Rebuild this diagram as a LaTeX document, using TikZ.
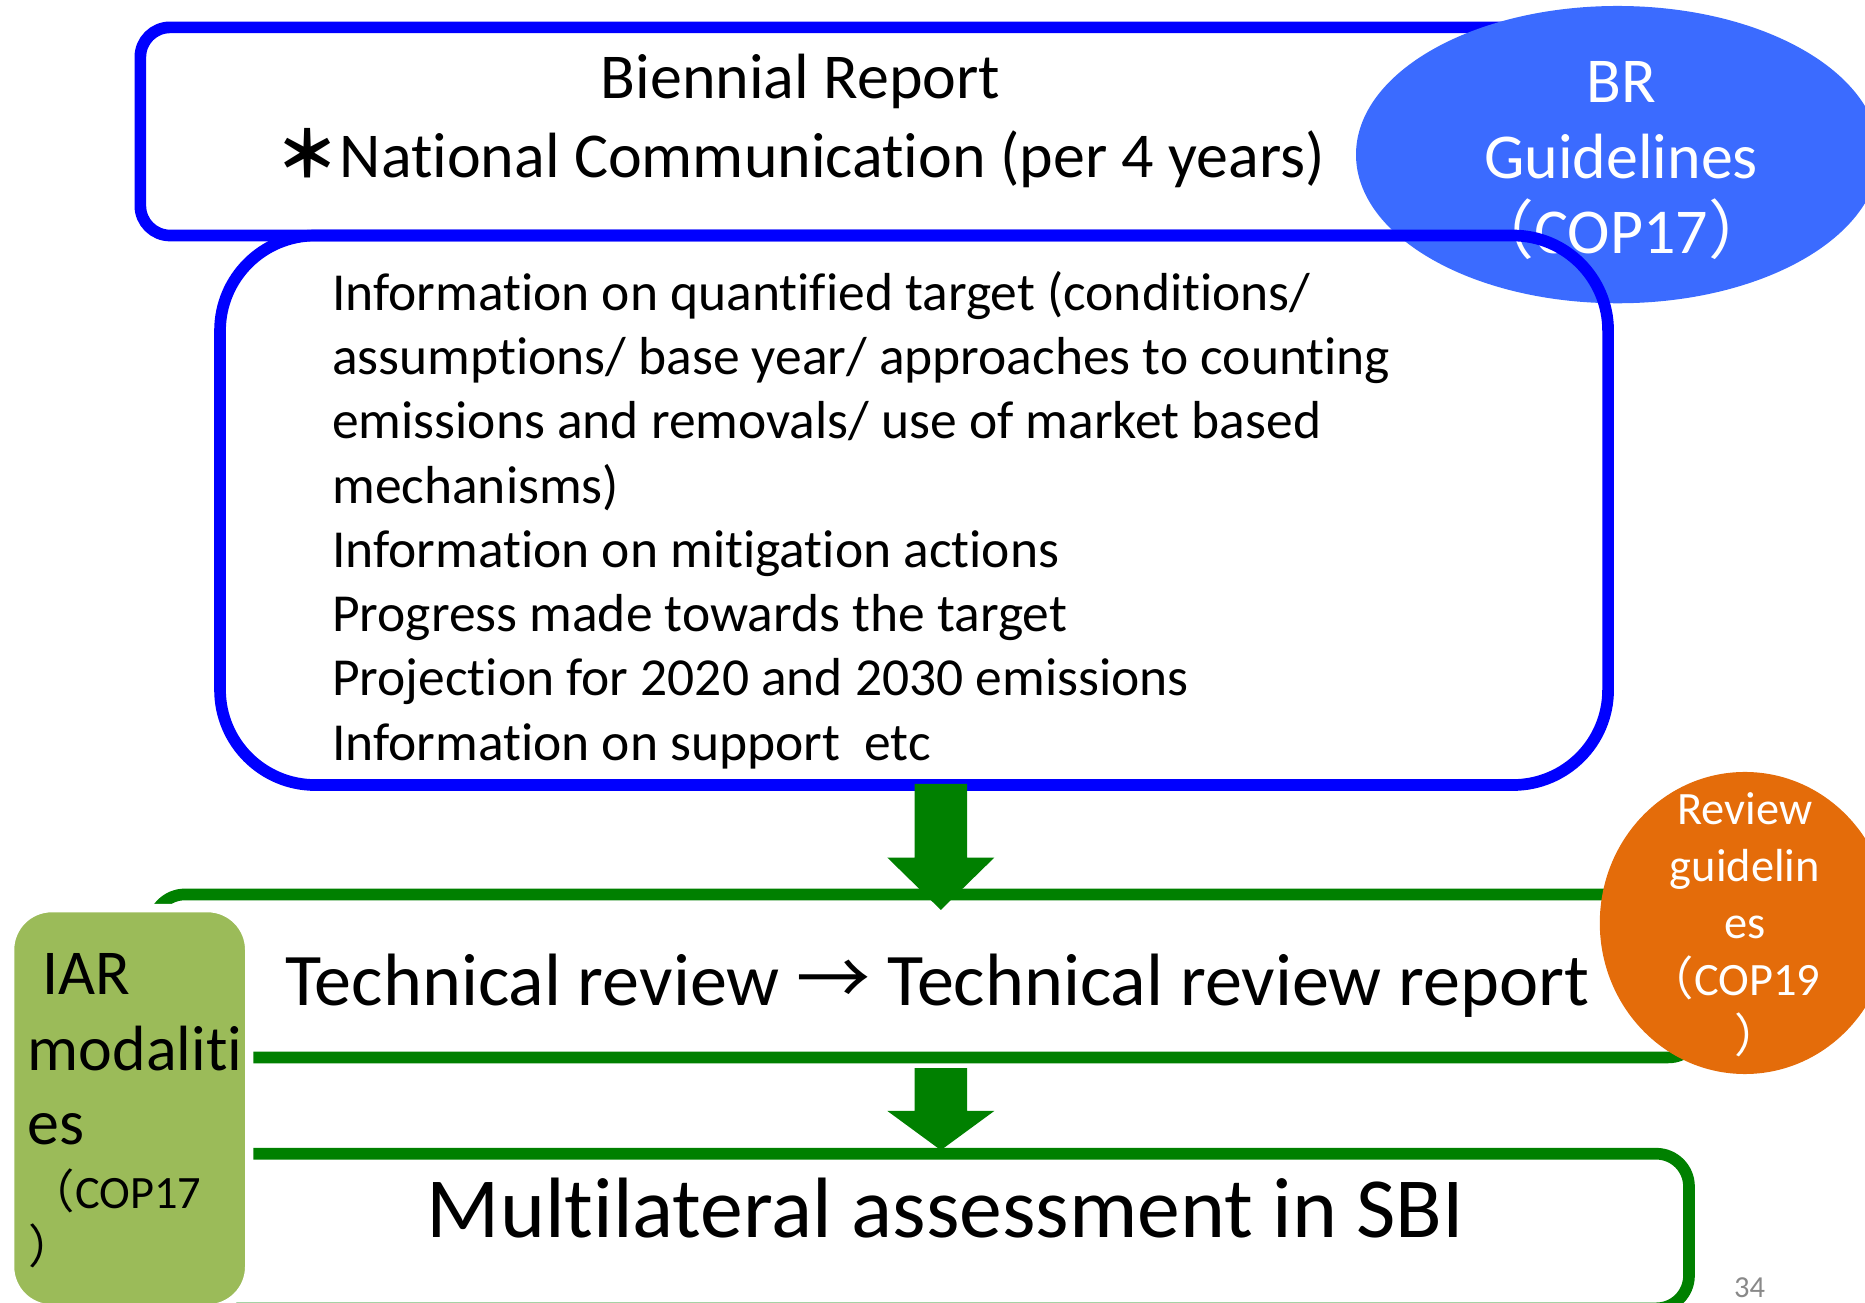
\documentclass[tikz,border=0pt]{standalone}
\usepackage{fontspec}
\setmainfont{Carlito}[Ligatures=NoCommon]
\newfontfamily\cjk{Noto Sans CJK JP}
\usepackage{tikz}

\definecolor{brblue}{RGB}{0,0,255}
\definecolor{ovalblue}{RGB}{59,107,255}
\definecolor{revgreen}{RGB}{0,128,0}
\definecolor{iargreen}{RGB}{155,187,89}
\definecolor{coporange}{RGB}{228,108,10}
\definecolor{pagegray}{RGB}{137,137,137}

% green block arrow pointing down: top of shaft, start of head, tip
\newcommand{\downblock}[3]{%
  \fill[blockarrow] (769,#1) -- (813,#1) -- (813,#2) -- (836,#2)
    -- (791,#3) -- (746,#2) -- (769,#2) -- cycle;}

\begin{document}
\begin{tikzpicture}[x=0.02cm, y=-0.02cm,
  bluebox/.style={draw=brblue, line width=5.6pt},
  greenbox/.style={draw=revgreen, line width=5.6pt, rounded corners=0.55cm},
  blockarrow/.style={fill=revgreen},
  bigtext/.style={font=\fontsize{30.6}{36}\selectfont, inner sep=0pt, anchor=base},
  listtext/.style={font=\fontsize{25.6}{30}\selectfont, inner sep=0pt, anchor=base west},
  smalltext/.style={font=\fontsize{22.2}{26}\selectfont, inner sep=0pt, anchor=base}]

\useasboundingbox (0,0) rectangle (1568,1095);

% report header box and guidelines oval
\draw[bluebox, rounded corners=0.5cm] (118,23) rectangle (1300,198);
\fill[ovalblue] (1360,130) ellipse [x radius=4.4cm, y radius=2.5cm];
\node[bigtext, white] (br1) at (1363,86) {BR};
\node[bigtext, white] (br2) at (1363,150) {Guidelines};
\node[bigtext, white] (br3) at (1363,213) {{\cjk （}COP17{\cjk ）}};

% contents box
\draw[bluebox, rounded corners=1.6cm] (185,198) rectangle (1352,660);

\node[bigtext] (title) at (673,83) {Biennial Report};
\node[bigtext] (natcom) at (673,149) {{\cjk\bfseries ＊}National Communication (per 4 years)};

\foreach \txt [count=\i] in {Information on quantified target (conditions/,
    assumptions/ base year/ approaches to counting,
    emissions and removals/ use of market based,
    mechanisms),
    Information on mitigation actions,
    Progress made towards the target,
    Projection for 2020 and 2030 emissions,
    Information on support~ etc}
  \node[listtext] (info\i) at (279,207+54*\i) {\txt};

% review and assessment boxes
\draw[greenbox] (128,752) rectangle (1430,889);
\draw[greenbox] (128,970) rectangle (1420,1100);

\downblock{659}{721}{765}
\downblock{898}{934}{967}

% modalities tab on the left
\filldraw[fill=iargreen, draw=white, line width=4pt, rounded corners=0.7cm]
  (8.5,763.5) rectangle (209.5,1100);
\node[bigtext, anchor=base west] (iar1) at (23,836) {\ IAR};
\node[bigtext, anchor=base west] (iar2) at (23,900) {modaliti};
\node[bigtext, anchor=base west] (iar3) at (23,962) {es};
\node[smalltext, anchor=base west] (iar4) at (24,1016) {{\cjk （}COP17};
\node[smalltext, anchor=base west] (iar5) at (24,1062) {{\cjk ）}};

% review guidelines circle
\fill[coporange] (1467,776) ellipse [x radius=2.44cm, y radius=2.54cm];
\node[smalltext, white] (rg1) at (1467,693) {Review};
\node[smalltext, white] (rg2) at (1467,741) {guidelin};
\node[smalltext, white] (rg3) at (1467,789) {es};
\node[smalltext, white] (rg4) at (1458,837) {{\cjk （}COP19};
\node[smalltext, white] (rg5) at (1478,885) {{\cjk ）}};

\node[inner sep=0pt, anchor=base, font=\fontsize{35.5}{42}\selectfont] (techrev)
  at (788,845) {Technical review {\cjk →} Technical review report};
\node[inner sep=0pt, anchor=base, font=\fontsize{41}{48}\selectfont] (multi)
  at (795,1040) {Multilateral assessment in SBI};

\node[inner sep=0pt, anchor=base, pagegray, font=\fontsize{14.6}{17}\selectfont] (page)
  at (1471,1091) {34};

\end{tikzpicture}
\end{document}
